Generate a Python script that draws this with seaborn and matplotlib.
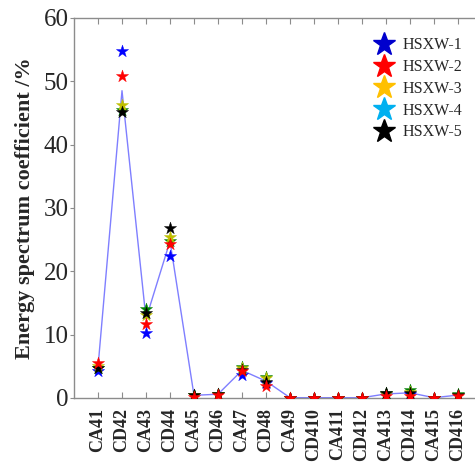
import matplotlib
matplotlib.use("Agg")
import matplotlib.pyplot as plt
from matplotlib.lines import Line2D
import seaborn as sns
import pandas as pd

# Wavelet packet nodes
nodes = ["CA41", "CD42", "CA43", "CD44", "CA45", "CD46", "CA47", "CD48",
         "CA49", "CD410", "CA411", "CD412", "CA413", "CD414", "CA415", "CD416"]

# Energy spectrum coefficients (%) for each sample
hsxw1 = [4.2, 54.8, 10.3, 22.4, 0.4, 0.6, 3.6, 2.4, 0.05, 0.05, 0.05, 0.05, 0.6, 0.7, 0.05, 0.4]
hsxw2 = [5.6, 50.8, 11.7, 24.3, 0.2, 0.5, 4.2, 1.9, 0.05, 0.05, 0.05, 0.05, 0.3, 0.3, 0.05, 0.3]
hsxw3 = [5.0, 46.3, 13.1, 25.4, 0.5, 0.7, 4.7, 3.1, 0.05, 0.05, 0.05, 0.05, 0.7, 1.0, 0.05, 0.5]
hsxw4 = [4.8, 45.5, 14.0, 24.8, 0.5, 0.6, 4.9, 3.3, 0.05, 0.05, 0.05, 0.05, 0.8, 1.3, 0.05, 0.6]
hsxw5 = [4.8, 45.2, 13.4, 26.9, 0.5, 0.6, 4.4, 2.6, 0.05, 0.05, 0.05, 0.05, 0.8, 0.8, 0.05, 0.5]

samples = ["HSXW-1", "HSXW-2", "HSXW-3", "HSXW-4", "HSXW-5"]
series = [hsxw1, hsxw2, hsxw3, hsxw4, hsxw5]
mark_colors = ["#0000FF", "#FF0000", "#BFBF00", "#008000", "#000000"]
legend_colors = ["#0000CD", "#FF0000", "#FFC000", "#00B0F0", "#000000"]

rows = []
for name, vals in zip(samples, series):
    for i, (node, v) in enumerate(zip(nodes, vals)):
        rows.append({"pos": i + 1, "node": node, "sample": name, "value": v})
df = pd.DataFrame(rows)

sns.set_theme(style="white")
plt.rcParams["font.family"] = ["Liberation Serif", "DejaVu Serif"]

fig = plt.figure(figsize=(4.75, 4.67), dpi=100)
ax = fig.add_axes([74 / 475, 69 / 467, 408 / 475, 380 / 467])

# Mean curve across the samples
sns.lineplot(data=df, x="pos", y="value", estimator="mean", errorbar=None,
             color="#7F7FFF", linewidth=1.0, ax=ax, zorder=2)

# Individual samples as stars (red drawn last so it sits on top)
draw_order = [0, 3, 2, 4, 1]
for k in draw_order:
    sub = df[df["sample"] == samples[k]]
    sns.scatterplot(data=sub, x="pos", y="value", marker="*", s=85,
                    color=mark_colors[k], edgecolor=mark_colors[k],
                    linewidth=0.3, ax=ax, zorder=3, legend=False)

ax.set_xlim(0, 17)
ax.set_ylim(0, 60)
ax.set_xticks(range(1, len(nodes) + 1))
ax.set_xticklabels(nodes, rotation=90, fontsize=13, fontweight="bold")
ax.set_yticks(range(0, 61, 10))
ax.set_yticklabels([str(v) for v in range(0, 61, 10)], fontsize=18)
ax.set_xlabel("")
ax.set_ylabel("Energy spectrum coefficient /%", fontsize=16, fontweight="bold",
              labelpad=6)

for side in ["left", "bottom", "top", "right"]:
    ax.spines[side].set_color("#8C8C8C")
    ax.spines[side].set_linewidth(1.0)

ax.tick_params(axis="x", which="both", direction="in", length=4, width=0.8,
               color="#8C8C8C", top=True, bottom=True, pad=7)
ax.tick_params(axis="y", which="both", direction="out", length=3, width=0.8,
               color="#8C8C8C", left=True, pad=1)

handles = [Line2D([0], [0], marker="*", linestyle="none", markersize=17,
                  markerfacecolor=c, markeredgecolor=c) for c in legend_colors]
fig.legend(handles, samples, loc="upper left", bbox_to_anchor=(362 / 475, 1 - 31 / 467),
           frameon=False, fontsize=11.5, handletextpad=0.15, labelspacing=0.36,
           borderaxespad=0)

fig.savefig("out.png", dpi=100)
